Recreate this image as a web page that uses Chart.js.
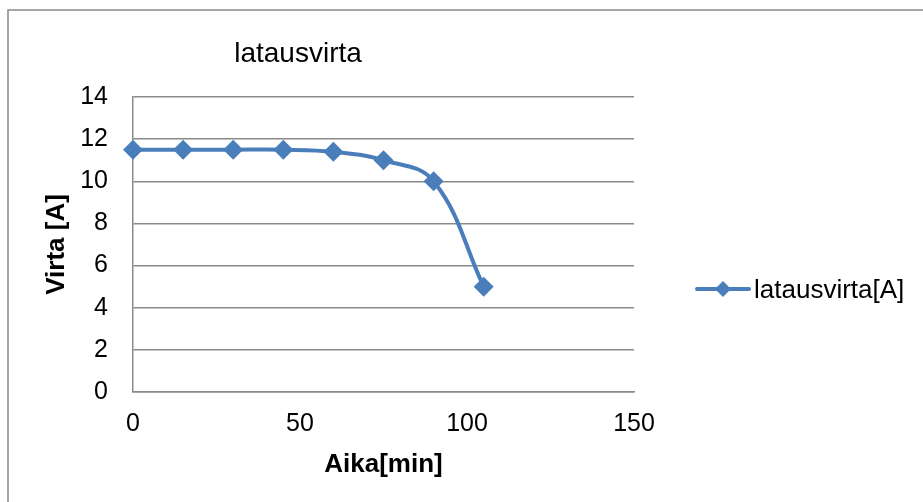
<!DOCTYPE html>
<html>
<head>
<meta charset="utf-8">
<script src="https://cdn.jsdelivr.net/npm/chart.js@4/dist/chart.umd.min.js"></script>
<style>
    html, body { margin: 0; padding: 0; background: #fff; }
    #wrap { width: 923px; height: 502px; position: relative; }
</style>
</head>
<body>
<div id="wrap"><canvas id="chart" width="923" height="502"></canvas></div>
<script>
// Charging current over time
const aika = [0, 15, 30, 45, 60, 75, 90, 105];          // min
const virta = [11.5, 11.5, 11.5, 11.5, 11.4, 11, 10, 5]; // A
const seriesName = 'latausvirta[A]';
const chartTitle = 'latausvirta';

const blue = '#4a7ebb';
const gray = '#898989';
const fontFamily = 'Arial, "Liberation Sans", sans-serif';

// Title, legend and frame are drawn by hand to sit where the layout needs them
const decorations = {
    id: 'decorations',
    afterDraw(chart) {
        const ctx = chart.ctx;
        ctx.save();

        // outer frame
        ctx.strokeStyle = gray;
        ctx.lineWidth = 1.5;
        ctx.strokeRect(8, 10, 940, 520);

        // title
        ctx.fillStyle = '#000';
        ctx.font = '28px ' + fontFamily;
        ctx.textAlign = 'center';
        ctx.textBaseline = 'alphabetic';
        ctx.fillText(chartTitle, 298, 62);

        // legend: line + diamond
        const ds = chart.data.datasets[0];
        const ly = 289;
        ctx.strokeStyle = ds.borderColor;
        ctx.lineWidth = 4;
        ctx.lineCap = 'round';
        ctx.beginPath();
        ctx.moveTo(697, ly);
        ctx.lineTo(749, ly);
        ctx.stroke();
        ctx.fillStyle = ds.backgroundColor;
        ctx.beginPath();
        ctx.moveTo(723, ly - 8);
        ctx.lineTo(731, ly);
        ctx.lineTo(723, ly + 8);
        ctx.lineTo(715, ly);
        ctx.closePath();
        ctx.fill();

        ctx.fillStyle = '#000';
        ctx.font = '26px ' + fontFamily;
        ctx.textAlign = 'left';
        ctx.fillText(ds.label, 754, 298);

        ctx.restore();
    }
};

new Chart(document.getElementById('chart').getContext('2d'), {
    type: 'scatter',
    data: {
        datasets: [{
            label: seriesName,
            data: aika.map((x, i) => ({ x: x, y: virta[i] })),
            showLine: true,
            clip: false,
            borderColor: blue,
            backgroundColor: blue,
            borderWidth: 4,
            tension: 0.4,
            pointStyle: 'rectRot',
            pointRadius: 10,
            pointHoverRadius: 10,
            pointBorderWidth: 0
        }]
    },
    options: {
        responsive: false,
        animation: false,
        layout: { padding: { left: 0, top: 97, right: 289, bottom: 20 } },
        plugins: {
            legend: { display: false },
            title: { display: false },
            tooltip: { enabled: false }
        },
        scales: {
            x: {
                type: 'linear',
                min: 0,
                max: 150,
                ticks: { stepSize: 50, color: '#000', padding: 17, font: { size: 25, family: fontFamily } },
                grid: { display: false, drawTicks: false },
                border: { color: gray, width: 1.5 },
                title: {
                    display: true,
                    text: 'Aika[min]',
                    color: '#000',
                    font: { size: 26, weight: 'bold', family: fontFamily },
                    padding: { top: 0, bottom: 2 }
                },
                afterFit(scale) { scale.height = 90; }
            },
            y: {
                min: 0,
                max: 14,
                ticks: { stepSize: 2, color: '#000', padding: 25, font: { size: 25, family: fontFamily } },
                grid: { color: gray, lineWidth: 1.5, drawTicks: false },
                border: { color: gray, width: 1.5 },
                title: {
                    display: true,
                    text: 'Virta [A]',
                    color: '#000',
                    font: { size: 26, weight: 'bold', family: fontFamily },
                    padding: { top: 41, bottom: 0 }
                },
                afterFit(scale) { scale.width = 133; }
            }
        }
    },
    plugins: [decorations]
});
</script>
</body>
</html>
